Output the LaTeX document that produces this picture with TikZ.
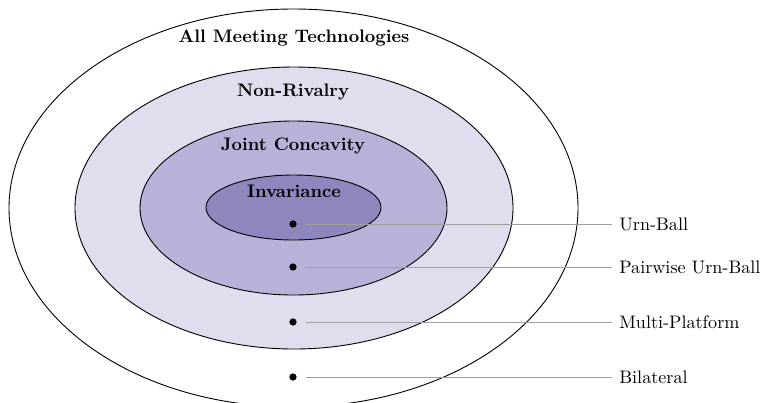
\documentclass[tikz,border=0pt]{standalone}
\usetikzlibrary{shapes.geometric}
\definecolor{ringA}{HTML}{E0DDEF}
\definecolor{ringB}{HTML}{B8B2D8}
\definecolor{ringC}{HTML}{8E87BE}
\definecolor{leader}{HTML}{A0A0A0}
\begin{document}
\begin{tikzpicture}[x=0.552pt,y=-0.552pt,
  ring/.style={draw=black,line width=0.5pt},
  title/.style={font=\bfseries,inner sep=0pt,anchor=center},
  dot/.style={circle,fill=black,inner sep=0pt,minimum size=4pt},
  lab/.style={anchor=west,inner sep=0pt},
  lead/.style={draw=leader,line width=0.5pt}]
\useasboundingbox (0,0) rectangle (763,402);
\begin{scope}
\clip (0,0) rectangle (763,402);
% nested classes of meeting technologies
\draw[ring] (293.5,208) ellipse [x radius=284.5, y radius=199];
\draw[ring,fill=ringA] (294,208) ellipse [x radius=219, y radius=141];
\draw[ring,fill=ringB] (293.5,208) ellipse [x radius=153.5, y radius=87];
\draw[ring,fill=ringC] (293.5,207.5) ellipse [x radius=87.5, y radius=32.5];
\end{scope}
% class names
\node[title] (tAll) at (294,38) {All Meeting Technologies};
\node[title] (tNR) at (293,92) {Non-Rivalry};
\node[title] (tJC) at (293,146) {Joint Concavity};
\node[title] (tInv) at (294,191) {Invariance};
% examples
\node[dot] (d1) at (293,224) {};
\node[dot] (d2) at (293,267) {};
\node[dot] (d3) at (293,322) {};
\node[dot] (d4) at (293,377) {};
\node[lab] (l1) at (619,224) {Urn-Ball};
\node[lab] (l2) at (619,267) {Pairwise Urn-Ball};
\node[lab] (l3) at (619,322) {Multi-Platform};
\node[lab] (l4) at (619,377) {Bilateral};
\foreach \i in {1,...,4}
  \draw[lead,shorten <=5pt,shorten >=4pt] (d\i) -- (l\i);
\end{tikzpicture}
\end{document}
